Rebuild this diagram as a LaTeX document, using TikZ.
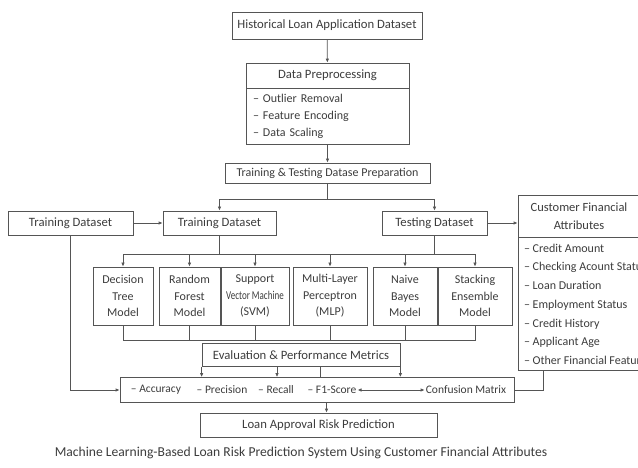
\documentclass[tikz,border=0pt]{standalone}
\usepackage{fontspec}
\setmainfont{Carlito}
\usetikzlibrary{arrows.meta,positioning}
\definecolor{linegray}{HTML}{555555}
\definecolor{textgray}{HTML}{3C3C3C}
\begin{document}
\begin{tikzpicture}[x=1pt,y=-1pt,
    every node/.style={text=textgray},
    box/.style={draw=linegray,line width=0.75pt,inner sep=0pt,align=center,
      font=\fontsize{12.7}{15}\selectfont},
    list/.style={box,align=left,inner xsep=7pt},
    model/.style={box,minimum height=58pt,font=\fontsize{12}{16.5}\selectfont},
    mtext/.style={inner sep=1pt,font=\fontsize{11.5}{13}\selectfont},
    arr/.style={draw=linegray,line width=0.75pt,-{Latex[length=4pt,width=3.5pt]}},
    ln/.style={draw=linegray,line width=0.75pt}]
  \useasboundingbox (0,0) rectangle (638,468);

  % top of the flow
  \node[box,minimum width=190pt,minimum height=27pt] (hist) at (327,25.5) {Historical Loan Application Dataset};
  \node[box,minimum width=163pt,minimum height=25pt] (prep) at (327.5,75.5) {Data Preprocessing};
  \node[list,text width=149pt,minimum height=56pt,anchor=north,font=\fontsize{12}{17}\selectfont] (prepitems) at (prep.south) {-- Outlier Removal\\-- Feature Encoding\\-- Data Scaling};
  \node[box,minimum width=205pt,minimum height=20pt,font=\fontsize{12}{14}\selectfont] (split) at (327.5,173) {Training \& Testing Datase Preparation};

  % datasets
  \node[box,minimum width=125pt,minimum height=24pt] (trleft) at (70.5,223) {Training Dataset};
  \node[box,minimum width=113pt,minimum height=24pt] (trmid) at (219.5,223) {Training Dataset};
  \node[box,minimum width=105pt,minimum height=24pt] (test) at (434.5,223) {Testing Dataset};

  % customer attributes
  \node[box,minimum width=122pt,minimum height=42pt,font=\fontsize{12.5}{18}\selectfont] (cust) at (579,216) {Customer Financial\\Attributes};
  \node[list,inner xsep=6pt,minimum width=122pt,minimum height=133pt,anchor=north west,font=\fontsize{12}{18.7}\selectfont] (custitems) at (cust.south west) {-- Credit Amount\\-- Checking Acount Status\\-- Loan Duration\\-- Employment Status\\-- Credit History\\-- Applicant Age\\-- Other Financial Features};

  % models
  \node[model,minimum width=60pt] (dt) at (123,296) {Decision\\Tree\\Model};
  \node[model,minimum width=61pt] (rf) at (189.5,296) {Random\\Forest\\Model};
  \node[model,minimum width=68pt] (svm) at (255,296) {Support\\\scalebox{0.75}[1]{Vector Machine}\\(SVM)};
  \node[model,minimum width=74pt] (mlp) at (330,296) {Multi-Layer\\Perceptron\\(MLP)};
  \node[model,minimum width=64pt] (nb) at (405,296) {Naive\\Bayes\\Model};
  \node[model,minimum width=74pt] (st) at (475,296) {Stacking\\Ensemble\\Model};

  % evaluation
  \node[box,minimum width=198pt,minimum height=23pt] (eval) at (301,355) {Evaluation \& Performance Metrics};
  \node[box,minimum width=394pt,minimum height=25pt] (metrics) at (317,390) {};
  \node[mtext] (acc) at (156,390) {-- Accuracy};
  \node[mtext] (prec) at (222,390) {-- Precision};
  \node[mtext] (rec) at (276,390) {-- Recall};
  \node[mtext] (f1) at (332,390) {-- F1-Score};
  \node[mtext] (conf) at (466,390) {Confusion Matrix};

  \node[box,minimum width=237pt,minimum height=24pt] (loan) at (318.5,425) {Loan Approval Risk Prediction};
  \node[font=\fontsize{13.6}{15}\selectfont] (caption) at (301,453) {Machine Learning-Based Loan Risk Prediction System Using Customer Financial Attributes};

  % connectors
  \draw[arr] (hist) -- (prep);
  \draw[arr] (prepitems) -- (split);
  \draw[ln] (split.south) -- ++(0,16) coordinate (sbus);
  \draw[ln] (trmid.north |- sbus) -- (test.north |- sbus);
  \draw[arr] (trmid.north |- sbus) -- (trmid.north);
  \draw[arr] (test.north |- sbus) -- (test.north);
  \draw[arr] (trleft) -- (trmid);
  \draw[arr] (test.east) -- (test.east -| cust.west);

  \draw[ln] (trmid.south) -- ++(0,19) coordinate (tbus);
  \draw[ln] (test.south) -- (test.south |- tbus);
  \draw[ln] (dt.north |- tbus) -- (st.north |- tbus);
  \foreach \m in {dt,rf,svm,mlp,nb,st}
    \draw[arr] (\m.north |- tbus) -- (\m.north);

  \draw[ln] (dt.south) -- ++(0,15) -| (st.south);
  \foreach \m in {rf,svm,mlp,nb}
    \draw[ln] (\m.south) -- ++(0,15);

  \draw[arr] (eval.south west) -- (eval.south west |- metrics.north);
  \draw[arr] ([xshift=-24pt]eval.south) -- ([xshift=-24pt]eval.south |- metrics.north);
  \draw[arr] (eval.south east) -- (eval.south east |- metrics.north);
  \draw[ln] ([xshift=19pt]eval.south) -- ([xshift=19pt]eval.south |- metrics.north);

  \draw[arr] (trleft.south) |- (metrics.west);
  \draw[ln] ([xshift=-36pt]custitems.south -| cust.south) |- (metrics.east);
  \draw[{Latex[length=4pt,width=3.5pt]}-{Latex[length=4pt,width=3.5pt]},draw=linegray,line width=0.75pt] (f1) -- (conf);
  \draw[arr] ([xshift=8pt]loan.north |- metrics.south) -- ([xshift=8pt]loan.north);
\end{tikzpicture}
\end{document}
